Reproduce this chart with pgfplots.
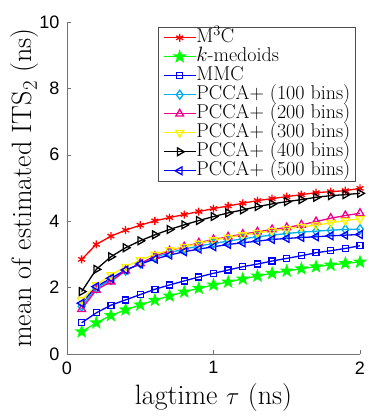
\documentclass[border=0pt]{standalone}
\usepackage{fontspec}
\usepackage{pgfplots}
\pgfplotsset{compat=1.18}
\usetikzlibrary{plotmarks}
\newfontfamily\helv{Liberation Sans}

% filled five-pointed star, like matlab's 'p' marker
\pgfdeclareplotmark{pentagram}{%
  \pgfpathmoveto{\pgfpointpolar{90}{\pgfplotmarksize}}%
  \pgfpathlineto{\pgfpointpolar{126}{0.4\pgfplotmarksize}}%
  \pgfpathlineto{\pgfpointpolar{162}{\pgfplotmarksize}}%
  \pgfpathlineto{\pgfpointpolar{198}{0.4\pgfplotmarksize}}%
  \pgfpathlineto{\pgfpointpolar{234}{\pgfplotmarksize}}%
  \pgfpathlineto{\pgfpointpolar{270}{0.4\pgfplotmarksize}}%
  \pgfpathlineto{\pgfpointpolar{306}{\pgfplotmarksize}}%
  \pgfpathlineto{\pgfpointpolar{342}{0.4\pgfplotmarksize}}%
  \pgfpathlineto{\pgfpointpolar{18}{\pgfplotmarksize}}%
  \pgfpathlineto{\pgfpointpolar{54}{0.4\pgfplotmarksize}}%
  \pgfpathclose\pgfusepathqfillstroke}

\begin{document}
\begin{tikzpicture}
\begin{axis}[
  name=ax,
  scale only axis, width=293pt, height=332pt,
  xmin=0, xmax=2, ymin=0, ymax=10,
  xtick={0,1,2}, ytick={0,2,4,6,8,10},
  axis lines=left, axis line style={-, black!55, line width=0.6pt},
  tick style={black!55, line width=0.6pt}, tick align=inside,
  major tick length=4pt,
  /pgf/number format/assume math mode=true,
  tick label style={font=\helv\fontsize{18}{18}\selectfont},
  yticklabel style={xshift=-4pt},
  xticklabel style={yshift=-4pt},
  every axis plot/.append style={line width=1.3pt},
  legend style={at={(0.985,0.985)}, anchor=north east,
    draw=black!70, line width=0.6pt,
    font=\fontsize{20}{20}\selectfont,
    nodes={inner sep=0pt, text height=14.5pt, text depth=4.5pt}, row sep=0pt,
    inner xsep=5pt, inner ysep=1pt},
  legend cell align=left,
  legend image code/.code={
    \draw[line width=1.3pt, mark repeat=2, mark phase=2]
      plot coordinates {(0pt,0pt) (16pt,0pt) (32pt,0pt)};},
  clip=false,
]
\addplot[red, mark=asterisk, mark size=4pt] coordinates {
  (0.1,2.85)(0.2,3.30)(0.3,3.55)(0.4,3.73)(0.5,3.88)(0.6,4.01)(0.7,4.11)
  (0.8,4.20)(0.9,4.29)(1.0,4.38)(1.1,4.46)(1.2,4.54)(1.3,4.62)(1.4,4.68)
  (1.5,4.74)(1.6,4.80)(1.7,4.86)(1.8,4.89)(1.9,4.92)(2.0,4.99)};
\addlegendentry{M$^3$C}
\addplot[green, mark=pentagram, mark size=5.5pt, mark options={fill=green}] coordinates {
  (0.1,0.67)(0.2,0.94)(0.3,1.16)(0.4,1.33)(0.5,1.48)(0.6,1.62)(0.7,1.75)
  (0.8,1.87)(0.9,1.98)(1.0,2.08)(1.1,2.17)(1.2,2.26)(1.3,2.35)(1.4,2.43)
  (1.5,2.50)(1.6,2.57)(1.7,2.63)(1.8,2.68)(1.9,2.73)(2.0,2.77)};
\addlegendentry{$k$-medoids}
\addplot[blue, mark=square, mark size=3pt] coordinates {
  (0.1,0.94)(0.2,1.24)(0.3,1.47)(0.4,1.63)(0.5,1.79)(0.6,1.95)(0.7,2.08)
  (0.8,2.20)(0.9,2.32)(1.0,2.43)(1.1,2.53)(1.2,2.63)(1.3,2.71)(1.4,2.80)
  (1.5,2.88)(1.6,2.96)(1.7,3.05)(1.8,3.11)(1.9,3.18)(2.0,3.26)};
\addlegendentry{MMC}
\addplot[cyan, mark=diamond, mark size=4.5pt] coordinates {
  (0.1,1.43)(0.2,1.98)(0.3,2.23)(0.4,2.51)(0.5,2.73)(0.6,2.91)(0.7,3.05)
  (0.8,3.16)(0.9,3.25)(1.0,3.33)(1.1,3.40)(1.2,3.47)(1.3,3.53)(1.4,3.58)
  (1.5,3.63)(1.6,3.67)(1.7,3.70)(1.8,3.73)(1.9,3.75)(2.0,3.76)};
\addlegendentry{PCCA+ (100 bins)}
\addplot[magenta, mark=triangle, mark size=4.5pt] coordinates {
  (0.1,1.35)(0.2,1.93)(0.3,2.18)(0.4,2.51)(0.5,2.73)(0.6,2.95)(0.7,3.11)
  (0.8,3.23)(0.9,3.35)(1.0,3.45)(1.1,3.53)(1.2,3.61)(1.3,3.68)(1.4,3.75)
  (1.5,3.81)(1.6,3.89)(1.7,3.99)(1.8,4.09)(1.9,4.17)(2.0,4.24)};
\addlegendentry{PCCA+ (200 bins)}
\addplot[yellow, mark=triangle, mark size=4.5pt, mark options={rotate=180}] coordinates {
  (0.1,1.63)(0.2,2.08)(0.3,2.38)(0.4,2.63)(0.5,2.83)(0.6,3.00)(0.7,3.13)
  (0.8,3.23)(0.9,3.33)(1.0,3.43)(1.1,3.51)(1.2,3.58)(1.3,3.65)(1.4,3.71)
  (1.5,3.77)(1.6,3.83)(1.7,3.88)(1.8,3.95)(1.9,4.02)(2.0,4.07)};
\addlegendentry{PCCA+ (300 bins)}
\addplot[black, mark=triangle, mark size=4.5pt, mark options={rotate=-90}] coordinates {
  (0.1,1.88)(0.2,2.55)(0.3,2.93)(0.4,3.20)(0.5,3.41)(0.6,3.59)(0.7,3.75)
  (0.8,3.89)(0.9,4.02)(1.0,4.14)(1.1,4.25)(1.2,4.34)(1.3,4.44)(1.4,4.52)
  (1.5,4.59)(1.6,4.65)(1.7,4.72)(1.8,4.77)(1.9,4.80)(2.0,4.84)};
\addlegendentry{PCCA+ (400 bins)}
\addplot[blue, mark=triangle, mark size=4.5pt, mark options={rotate=90}] coordinates {
  (0.1,1.53)(0.2,2.03)(0.3,2.28)(0.4,2.53)(0.5,2.71)(0.6,2.86)(0.7,2.98)
  (0.8,3.08)(0.9,3.16)(1.0,3.23)(1.1,3.30)(1.2,3.35)(1.3,3.40)(1.4,3.45)
  (1.5,3.48)(1.6,3.51)(1.7,3.53)(1.8,3.56)(1.9,3.58)(2.0,3.60)};
\addlegendentry{PCCA+ (500 bins)}
\end{axis}
\node[rotate=90, font=\fontsize{28}{28}\selectfont] at ([xshift=-42pt]ax.west) {mean of estimated ITS$_2$ (ns)};
\node[anchor=base, font=\fontsize{28}{28}\selectfont] at ([yshift=-50pt]ax.south) {lagtime $\tau$ (ns)};
\pgfresetboundingbox
\path[use as bounding box] ([shift={(-67pt,-62pt)}]ax.south west) rectangle ([shift={(14pt,22pt)}]ax.north east);
\end{tikzpicture}
\end{document}
